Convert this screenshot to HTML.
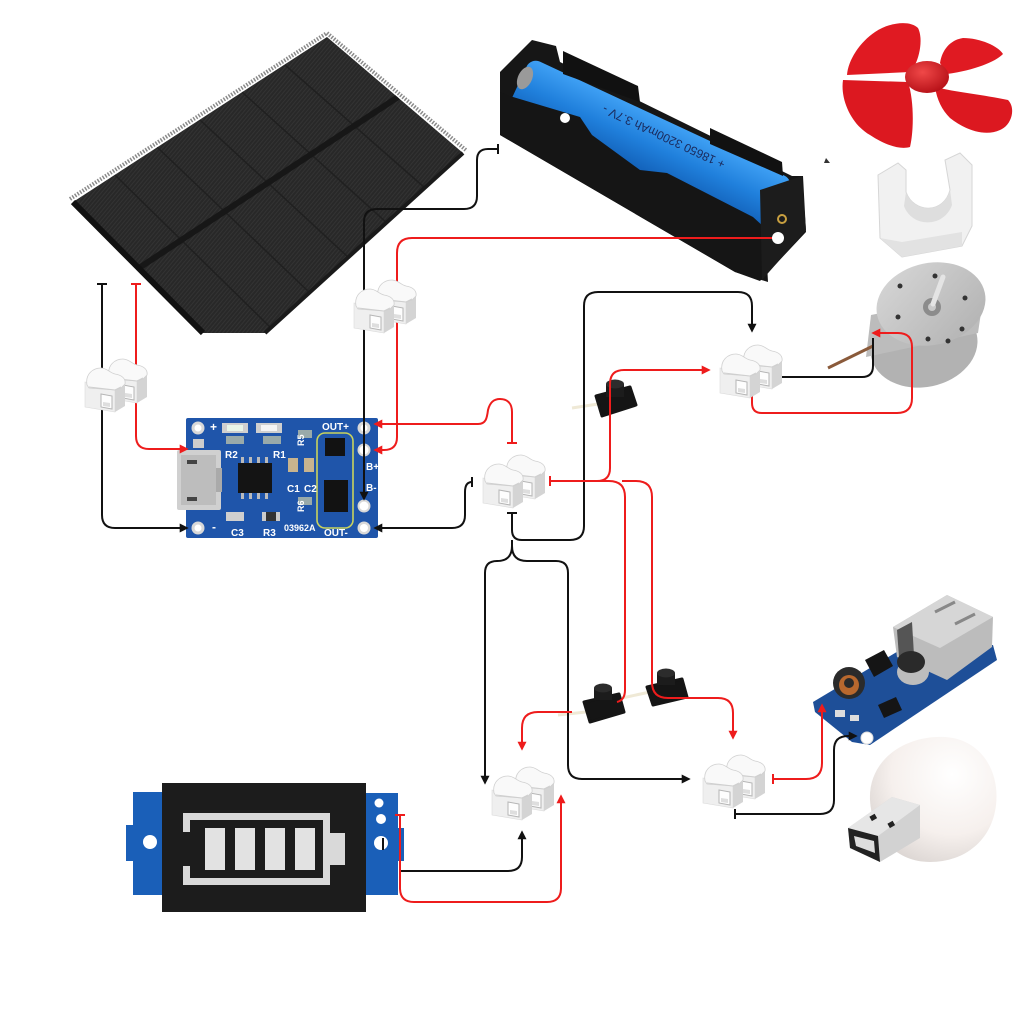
<!DOCTYPE html>
<html><head><meta charset="utf-8"><style>
html,body{margin:0;padding:0;background:#fff;}
svg{display:block;}
</style></head><body>
<svg width="1024" height="1024" viewBox="0 0 1024 1024" xmlns="http://www.w3.org/2000/svg">
<defs>
 <pattern id="cellp" width="3" height="3" patternUnits="userSpaceOnUse" patternTransform="rotate(40)">
  <rect width="3" height="3" fill="#282828"/>
  <rect width="1" height="3" fill="#333"/>
 </pattern>
 <clipPath id="pclip"><polygon points="73,202 327,37 463,153 265,333 203,333"/></clipPath>
 <linearGradient id="batg" x1="0" y1="0" x2="0" y2="1">
  <stop offset="0" stop-color="#3fa0f4"/><stop offset="0.5" stop-color="#2080dc"/><stop offset="1" stop-color="#1260b8"/>
 </linearGradient>
 <radialGradient id="hubg" cx="0.4" cy="0.35" r="0.7">
  <stop offset="0" stop-color="#f04848"/><stop offset="1" stop-color="#b50f16"/>
 </radialGradient>
 <radialGradient id="lampg" cx="0.65" cy="0.3" r="0.8">
  <stop offset="0" stop-color="#ffffff"/><stop offset="0.6" stop-color="#f6f0ed"/><stop offset="1" stop-color="#d9d3d0"/>
 </radialGradient>
 <linearGradient id="motg" x1="0" y1="0" x2="1" y2="1">
  <stop offset="0" stop-color="#d8d8d8"/><stop offset="1" stop-color="#b0b0b0"/>
 </linearGradient>
 <marker id="ab" viewBox="0 0 10 10" refX="7" refY="5" markerWidth="4.5" markerHeight="4.5" orient="auto" markerUnits="strokeWidth"><path d="M0,0 L10,5 L0,10 Z" fill="#111"/></marker>
 <marker id="ar" viewBox="0 0 10 10" refX="7" refY="5" markerWidth="4.5" markerHeight="4.5" orient="auto" markerUnits="strokeWidth"><path d="M0,0 L10,5 L0,10 Z" fill="#ee1c1c"/></marker>
 <marker id="tb" viewBox="0 0 2 10" refX="1" refY="5" markerWidth="1" markerHeight="5" orient="auto" markerUnits="strokeWidth"><rect width="2" height="10" fill="#111"/></marker>
 <marker id="tr" viewBox="0 0 2 10" refX="1" refY="5" markerWidth="1" markerHeight="5" orient="auto" markerUnits="strokeWidth"><rect width="2" height="10" fill="#ee1c1c"/></marker>
 <g id="blk">
  <path d="M0,16 L30,20 L30,46 L0,41 Z" fill="#efefef" stroke="#dadada" stroke-width="0.6"/>
  <path d="M30,20 L40,15 L40,40 L30,46 Z" fill="#d4d4d4"/>
  <path d="M2,19 C0,8 8,2 16,2 C22,2 25,7 30,8 C36,9 41,12 40,18 L36,22 L30,24 L4,22 Z" fill="#f9f9f9" stroke="#d0d0d0" stroke-width="0.8"/>
  <path d="M4,21 L30,24 L36,21" fill="none" stroke="#cfcfcf" stroke-width="1"/>
  <path d="M16,28 L27,30 L27,43 L16,41 Z" fill="#fdfdfd" stroke="#b5b5b5" stroke-width="1"/>
  <path d="M18,36 L25,37 L25,41 L18,40 Z" fill="#dedede"/>
 </g>
 <g id="conn">
  <use href="#blk" x="22" y="-9"/>
  <use href="#blk" x="0" y="0"/>
 </g>
</defs>
<rect width="1024" height="1024" fill="#fff"/>

<!-- SOLAR PANEL -->
<polyline points="70,199 327,33 467,151" fill="none" stroke="#8a8a8a" stroke-width="4" stroke-dasharray="1.5,1.5"/>
<polygon points="73,202 327,37 463,153 265,333 203,333" fill="url(#cellp)"/>
<g clip-path="url(#pclip)" stroke="#202020" stroke-width="1.5">
 <line x1="115" y1="175" x2="271" y2="328"/>
 <line x1="157" y1="147" x2="310" y2="293"/>
 <line x1="200" y1="120" x2="349" y2="258"/>
 <line x1="242" y1="92" x2="387" y2="223"/>
 <line x1="285" y1="65" x2="425" y2="188"/>
 <line x1="139" y1="268" x2="398" y2="97" stroke="#171717" stroke-width="6"/>
</g>
<line x1="73" y1="202" x2="203" y2="333" stroke="#111" stroke-width="6"/>
<line x1="463" y1="153" x2="265" y2="333" stroke="#1a1a1a" stroke-width="4"/>

<!-- BATTERY HOLDER -->
<polygon points="500,72 532,40 556,46 560,62 792,176 803,176 806,232 760,281 735,272 500,135" fill="#161616"/>
<rect x="-145" y="-29" width="290" height="58" rx="10" transform="translate(650,145) rotate(25)" fill="url(#batg)"/>
<ellipse cx="525" cy="78" rx="7" ry="12" transform="rotate(25 525 78)" fill="#9a9a9a"/>
<polygon points="563,51 638,86 640,102 563,74" fill="#111"/>
<polygon points="710,128 782,162 783,176 710,144" fill="#111"/>
<polygon points="500,92 513,97 580,117 592,135 640,170 667,173 753,217 765,228 768,282 735,272 500,135" fill="#151515"/>
<polygon points="760,190 802,176 806,230 762,280" fill="#1c1c1c"/>
<circle cx="782" cy="219" r="4" fill="none" stroke="#c9a040" stroke-width="2"/>
<text transform="translate(664,136) rotate(205)" text-anchor="middle" font-family="Liberation Sans, sans-serif" font-size="12" fill="#1a2a5c" dominant-baseline="middle">+   18650  3200mAh  3.7V     -</text>
<circle cx="565" cy="118" r="5" fill="#fff"/>
<path d="M826,158 L830,163 L824,163 Z" fill="#333"/>

<!-- FAN -->
<path d="M910,72 L847,75 C848,60 860,42 875,32 C890,22 910,20 918,28 C923,38 920,55 915,65 Z" fill="#e01a22"/>
<path d="M940,63 C942,50 950,40 963,38 C980,38 998,46 1003,54 C995,62 975,70 947,74 Z" fill="#e01a22"/>
<path d="M908,82 L843,80 C840,100 852,125 870,135 C885,145 900,150 910,147 C914,130 914,100 908,82 Z" fill="#dc1820"/>
<path d="M935,87 C955,92 985,95 1008,100 C1016,108 1012,125 1000,130 C985,137 965,130 950,118 C942,110 937,100 935,87 Z" fill="#dc1820"/>
<ellipse cx="927" cy="77" rx="22" ry="16" fill="url(#hubg)"/>

<!-- CLIP -->
<path d="M878,175 L898,163 L906,170 L906,192 C914,214 944,214 950,190 L945,160 L960,153 L972,165 L972,226 L962,246 L902,257 L880,238 Z" fill="#f1f1f1" stroke="#d6d6d6" stroke-width="1"/>
<path d="M906,192 C914,214 944,214 950,190 L952,205 C944,228 912,228 904,206 Z" fill="#dedede"/>
<path d="M880,238 L902,257 L962,246 L962,232 L902,242 Z" fill="#e2e2e2"/>

<!-- MOTOR -->
<ellipse cx="924" cy="346" rx="54" ry="41" transform="rotate(-12 924 346)" fill="#b2b2b2"/>
<polygon points="871,315 984,292 978,333 866,357" fill="#bcbcbc"/>
<ellipse cx="931" cy="304" rx="55" ry="41" transform="rotate(-12 931 304)" fill="url(#motg)"/>
<circle cx="932" cy="307" r="9" fill="#8c8c8c"/><circle cx="932" cy="307" r="4" fill="#c9c9c9"/>
<line x1="933" y1="304" x2="943" y2="277" stroke="#e4e4e4" stroke-width="5" stroke-linecap="round"/>
<g fill="#333"><circle cx="900" cy="286" r="2.5"/><circle cx="935" cy="276" r="2.5"/><circle cx="965" cy="298" r="2.5"/><circle cx="962" cy="329" r="2.5"/><circle cx="948" cy="341" r="2.5"/><circle cx="928" cy="339" r="2.5"/><circle cx="898" cy="317" r="2.5"/></g>
<line x1="828" y1="368" x2="873" y2="346" stroke="#8a5a3a" stroke-width="3"/>

<!-- TP4056 -->
<rect x="186" y="418" width="192" height="120" rx="2" fill="#1f55aa"/>
<circle cx="198" cy="428" r="6.5" fill="#d8d8d8"/><circle cx="198" cy="428" r="3.5" fill="#fff"/>
<circle cx="198" cy="528" r="6.5" fill="#d8d8d8"/><circle cx="198" cy="528" r="3.5" fill="#fff"/>
<rect x="193" y="439" width="11" height="9" fill="#ccc"/>
<rect x="177" y="450" width="44" height="60" rx="2" fill="#d0d0d0"/>
<rect x="181" y="455" width="35" height="50" fill="#bdbdbd"/>
<rect x="187" y="460" width="10" height="4" fill="#444"/><rect x="187" y="497" width="10" height="4" fill="#444"/>
<rect x="216" y="468" width="6" height="24" fill="#aaa"/>
<rect x="222" y="423" width="26" height="10" fill="#cfcfcf"/><rect x="227" y="425" width="16" height="6" fill="#e8f5e8"/>
<rect x="256" y="423" width="26" height="10" fill="#cfcfcf"/><rect x="261" y="425" width="16" height="6" fill="#f4f4f4"/>
<rect x="226" y="436" width="18" height="8" fill="#9aa"/><rect x="263" y="436" width="18" height="8" fill="#9aa"/>
<rect x="238" y="463" width="34" height="30" fill="#141414"/>
<g fill="#bbb"><rect x="241" y="457" width="3" height="6"/><rect x="249" y="457" width="3" height="6"/><rect x="257" y="457" width="3" height="6"/><rect x="265" y="457" width="3" height="6"/>
<rect x="241" y="493" width="3" height="6"/><rect x="249" y="493" width="3" height="6"/><rect x="257" y="493" width="3" height="6"/><rect x="265" y="493" width="3" height="6"/></g>
<rect x="288" y="458" width="10" height="14" fill="#c8b48e"/><rect x="304" y="458" width="10" height="14" fill="#c8b48e"/>
<rect x="298" y="430" width="14" height="8" fill="#9aa"/><rect x="298" y="497" width="14" height="8" fill="#9aa"/>
<rect x="226" y="512" width="18" height="9" fill="#cfcfcf"/><rect x="262" y="512" width="18" height="9" fill="#333"/>
<rect x="262" y="512" width="4" height="9" fill="#ccc"/><rect x="276" y="512" width="4" height="9" fill="#ccc"/>
<rect x="317" y="433" width="36" height="95" rx="8" fill="none" stroke="#c9d35e" stroke-width="1.6"/>
<rect x="325" y="438" width="20" height="18" fill="#121212"/>
<rect x="324" y="480" width="24" height="32" fill="#121212"/>
<g fill="#d8d8d8"><circle cx="364" cy="428" r="6.5"/><circle cx="364" cy="450" r="6.5"/><circle cx="364" cy="506" r="6.5"/><circle cx="364" cy="528" r="6.5"/></g>
<g fill="#fff"><circle cx="364" cy="428" r="3.5"/><circle cx="364" cy="450" r="4.5"/><circle cx="364" cy="506" r="4.5"/><circle cx="364" cy="528" r="4"/></g>
<g font-family="Liberation Sans, sans-serif" font-weight="bold" fill="#fff" font-size="10">
 <text x="225" y="458">R2</text><text x="273" y="458">R1</text>
 <text x="287" y="492">C1</text><text x="304" y="492">C2</text>
 <text x="231" y="536">C3</text><text x="263" y="536">R3</text>
 <text x="284" y="531" font-size="9">03962A</text>
 <text x="322" y="430">OUT+</text><text x="324" y="536">OUT-</text>
 <text x="366" y="470">B+</text><text x="366" y="491">B-</text>
 <text x="210" y="431" font-size="12">+</text><text x="212" y="531" font-size="12">-</text>
 <text transform="translate(304,446) rotate(-90)" font-size="9">R5</text>
 <text transform="translate(304,512) rotate(-90)" font-size="9">R6</text>
</g>

<!-- BATTERY INDICATOR -->
<rect x="126" y="825" width="12" height="36" fill="#1a5fb8"/>
<rect x="133" y="792" width="32" height="103" fill="#1a5fb8"/>
<rect x="396" y="828" width="8" height="33" fill="#1a5fb8"/>
<rect x="366" y="793" width="32" height="102" fill="#1a5fb8"/>
<rect x="162" y="783" width="204" height="129" fill="#1c1c1c"/>
<path d="M183,813 L330,813 L330,885 L183,885 L183,866 L190,866 L190,878 L323,878 L323,820 L190,820 L190,832 L183,832 Z" fill="#d9d9d9"/>
<rect x="330" y="833" width="15" height="32" fill="#d9d9d9"/>
<g fill="#e2e2e2"><rect x="205" y="828" width="20" height="42"/><rect x="235" y="828" width="20" height="42"/><rect x="265" y="828" width="20" height="42"/><rect x="295" y="828" width="20" height="42"/></g>
<circle cx="150" cy="842" r="7" fill="#fff"/>
<circle cx="379" cy="803" r="4.5" fill="#fff"/><circle cx="381" cy="819" r="5" fill="#fff"/><circle cx="381" cy="843" r="7" fill="#fff"/>

<!-- BOOST MODULE -->
<polygon points="813,702 900,650 993,645 997,660 870,745 852,742 815,712" fill="#1e4f98"/>
<polygon points="893,627 947,595 993,617 992,647 947,680 897,657" fill="#bcbcbc"/>
<polygon points="893,627 947,595 993,617 940,648" fill="#d6d6d6"/>
<polygon points="897,630 912,622 914,655 899,657" fill="#555"/>
<path d="M935,612 L955,602 M955,624 L975,614" stroke="#888" stroke-width="3"/>
<circle cx="849" cy="683" r="16" fill="#2b2b2b"/><circle cx="849" cy="685" r="10" fill="#b8682e"/><circle cx="849" cy="683" r="5" fill="#2a2a2a"/>
<polygon points="865,660 884,650 893,666 874,677" fill="#151515"/>
<ellipse cx="913" cy="672" rx="16" ry="13" fill="#bdbdbd"/>
<ellipse cx="911" cy="662" rx="14" ry="11" fill="#2a2a2a"/>
<polygon points="878,705 896,697 902,710 884,718" fill="#151515"/>
<rect x="835" y="710" width="10" height="7" fill="#ddd"/><rect x="850" y="715" width="9" height="6" fill="#ddd"/>
<circle cx="867" cy="738" r="6" fill="#fff" stroke="#ddd"/>

<!-- LAMP -->
<path d="M870,800 C868,760 905,735 945,737 C980,739 1000,770 996,805 C992,840 965,862 930,862 C895,862 872,835 870,800 Z" fill="url(#lampg)"/>
<polygon points="848,828 892,797 920,805 920,838 880,862 850,848" fill="#d2d2d2"/>
<polygon points="848,828 892,797 920,805 878,836" fill="#e6e6e6"/>
<polygon points="848,828 878,836 880,862 850,848" fill="#222"/>
<polygon points="854,836 874,841 875,853 856,846" fill="#ddd"/>
<rect x="870" y="815" width="6" height="5" fill="#222" transform="rotate(-30 873 817)"/>
<rect x="888" y="822" width="6" height="5" fill="#222" transform="rotate(-30 891 824)"/>

<!-- SWITCHES -->
<line x1="572" y1="408" x2="598" y2="404" stroke="#efe9d6" stroke-width="3"/>
<polygon points="596,396 630,387 636,405 602,416" fill="#151515" stroke="#151515" stroke-width="3" stroke-linejoin="round"/>
<rect x="606" y="384" width="18" height="13" fill="#1c1c1c"/><ellipse cx="615" cy="384" rx="9" ry="4.5" fill="#2c2c2c"/>
<line x1="558" y1="715" x2="586" y2="712" stroke="#efe9d6" stroke-width="3"/>
<line x1="622" y1="698" x2="650" y2="692" stroke="#efe9d6" stroke-width="3"/>
<polygon points="584,702 619,694 624,712 590,722" fill="#151515" stroke="#151515" stroke-width="3" stroke-linejoin="round"/>
<rect x="594" y="688" width="18" height="12" fill="#1c1c1c"/><ellipse cx="603" cy="688" rx="9" ry="4.5" fill="#2c2c2c"/>
<polygon points="647,687 682,679 687,697 653,705" fill="#151515" stroke="#151515" stroke-width="3" stroke-linejoin="round"/>
<rect x="657" y="673" width="18" height="12" fill="#1c1c1c"/><ellipse cx="666" cy="673" rx="9" ry="4.5" fill="#2c2c2c"/>

<!-- WIRES -->
<g fill="none" stroke-width="2">
 <path d="M102,284 L102,515 Q102,528 115,528 L186,528" stroke="#111" marker-start="url(#tb)" marker-end="url(#ab)"/>
 <path d="M136,284 L136,436 Q136,449 149,449 L186,449" stroke="#ee1c1c" marker-start="url(#tr)" marker-end="url(#ar)"/>
 <path d="M498,149 L488,149 Q477,149 477,160 L477,196 Q477,209 464,209 L377,209 Q364,209 364,222 L364,498" stroke="#111" marker-start="url(#tb)" marker-end="url(#ab)"/>
 <path d="M776,238 L412,238 Q397,238 397,253 L397,437 Q397,450 384,450 L376,450" stroke="#ee1c1c" marker-end="url(#ar)"/>
 <path d="M512,443 L512,412 C512,404 508,399 500,399 C494,399 490,402 488,410 C487,418 486,424 478,424 L376,424" stroke="#ee1c1c" marker-start="url(#tr)" marker-end="url(#ar)"/>
 <path d="M472,482 Q465,482 465,492 L465,515 Q465,528 452,528 L376,528" stroke="#111" marker-start="url(#tb)" marker-end="url(#ab)"/>
 <path d="M512,513 L512,530 Q512,540 522,540 L570,540 Q584,540 584,526 L584,306 Q584,292 598,292 L738,292 Q752,292 752,306 L752,330" stroke="#111" marker-start="url(#tb)" marker-end="url(#ab)"/>
 <path d="M512,540 L512,546 C512,557 506,561 497,561 Q485,561 485,573 L485,782" stroke="#111" marker-end="url(#ab)"/>
 <path d="M512,546 C512,557 518,561 527,561 L556,561 Q568,561 568,573 L568,765 Q568,779 582,779 L688,779" stroke="#111" marker-end="url(#ab)"/>
 <path d="M550,481 L597,481 Q610,481 610,468 L610,384 Q610,370 624,370 L708,370" stroke="#ee1c1c" marker-start="url(#tr)" marker-end="url(#ar)"/>
 <path d="M597,481 L609,481 Q625,481 625,497 L625,690 Q625,700 617,702" stroke="#ee1c1c"/>
 <path d="M572,712 L538,712 Q522,712 522,728 L522,748" stroke="#ee1c1c" marker-end="url(#ar)"/>
 <path d="M622,481 L636,481 Q652,481 652,497 L652,682 Q652,698 668,698 L718,698 Q733,698 733,713 L733,737" stroke="#ee1c1c" marker-end="url(#ar)"/>
 <path d="M772,377 L862,377 Q873,377 873,366 L873,338" stroke="#111" marker-start="url(#tb)"/>
 <path d="M752,390 L752,403 Q752,413 762,413 L897,413 Q912,413 912,398 L912,347 Q912,333 898,333 L874,333" stroke="#ee1c1c" marker-start="url(#tr)" marker-end="url(#ar)"/>
 <path d="M773,779 L806,779 Q822,779 822,763 L822,706" stroke="#ee1c1c" marker-start="url(#tr)" marker-end="url(#ar)"/>
 <path d="M735,814 L820,814 Q834,814 834,800 L834,750 Q834,736 848,736 L855,736" stroke="#111" marker-start="url(#tb)" marker-end="url(#ab)"/>
 <path d="M383,838 L383,850" stroke="#111"/>
 <path d="M401,871 L508,871 Q522,871 522,857 L522,833" stroke="#111" marker-end="url(#ab)"/>
 <path d="M400,815 L400,888 Q400,902 414,902 L547,902 Q561,902 561,888 L561,797" stroke="#ee1c1c" marker-start="url(#tr)" marker-end="url(#ar)"/>
</g>
<circle cx="778" cy="238" r="6" fill="#fff"/>

<!-- CONNECTORS -->
<use href="#conn" transform="translate(85,366)"/>
<use href="#conn" transform="translate(354,287)"/>
<use href="#conn" transform="translate(483,462)"/>
<use href="#conn" transform="translate(720,352)"/>
<use href="#conn" transform="translate(492,774)"/>
<use href="#conn" transform="translate(703,762)"/>
</svg>
</body></html>
